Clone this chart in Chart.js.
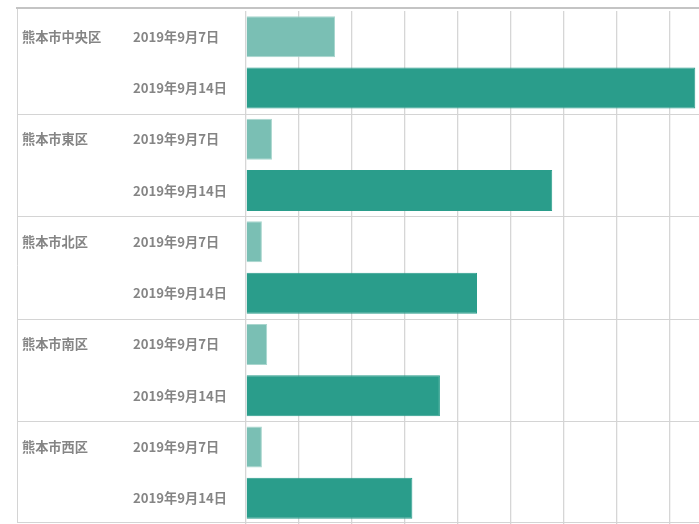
<!DOCTYPE html>
<html>
<head>
<meta charset="utf-8">
<script src="https://cdn.jsdelivr.net/npm/chart.js@4/dist/chart.umd.min.js"></script>
<style>
  body{margin:0;background:#fff;}
  #box{position:relative;width:699px;height:524px;}
</style>
</head>
<body>
<div id="box"><canvas id="grafico"></canvas></div>
<script>
// data
const kuList = ["熊本市中央区","熊本市東区","熊本市北区","熊本市南区","熊本市西区"];
const hiduke = ["2019年9月7日","2019年9月14日"];
const sep7  = [16.8, 4.9, 3.0, 4.0, 3.0];
const sep14 = [84.8, 57.8, 43.6, 36.6, 31.4];
const xTicks = [0, 10, 20, 30, 40, 50, 60, 70, 80];
const xMax = 85.5;

const iroUsui = "#7abfb4";
const iroKoi  = "#2a9d8b";
const moji = "#858585";
const fuente = '"Noto Sans CJK JP", "Noto Sans", sans-serif';
const moziSize = 13.2;

// 10 rows: each ku -> (7th, 14th)
let labels = [], valores = [], colores = [], bordes = [];
kuList.forEach((k,i)=>{
  labels.push(hiduke[0]); valores.push(sep7[i]);  colores.push(iroUsui); bordes.push("#a9d6ce");
  labels.push(hiduke[1]); valores.push(sep14[i]); colores.push(iroKoi);  bordes.push(iroKoi);
});

// table frame + district names
const waku = {
  id:"waku",
  beforeDatasetsDraw(chart){
    const ctx = chart.ctx, y = chart.scales.y, area = chart.chartArea;
    const half = (y.getPixelForValue(1) - y.getPixelForValue(0)) / 2;
    const izq = 17, der = chart.width;
    ctx.save();
    ctx.strokeStyle = "#d4d4d4";
    ctx.lineWidth = 1;
    for(let g=1; g<=kuList.length; g++){
      let py = (g < kuList.length) ? y.getPixelForValue(g*2) - half : y.getPixelForValue(g*2-1) + half;
      py = Math.min(Math.round(py), chart.height - 2) + 0.5;
      ctx.beginPath(); ctx.moveTo(izq, py); ctx.lineTo(der, py); ctx.stroke();
    }
    // left border
    const top = area.top - 3;
    const bot = Math.min(Math.round(y.getPixelForValue(labels.length-1) + half), chart.height - 2) + 0.5;
    ctx.beginPath(); ctx.moveTo(izq+0.5, top); ctx.lineTo(izq+0.5, bot); ctx.stroke();
    // top border
    ctx.strokeStyle = "#c4c4c4";
    ctx.lineWidth = 2;
    ctx.beginPath(); ctx.moveTo(izq-1, top); ctx.lineTo(der, top); ctx.stroke();
    // district names
    ctx.fillStyle = moji;
    ctx.font = "bold " + moziSize + "px " + fuente;
    ctx.textAlign = "left";
    ctx.textBaseline = "middle";
    kuList.forEach((k,i)=>{
      ctx.fillText(k, 22, y.getPixelForValue(i*2));
    });
    ctx.restore();
  }
};

new Chart(document.getElementById("grafico"),{
  type:"bar",
  data:{
    labels: labels,
    datasets:[{
      data: valores,
      backgroundColor: colores,
      borderColor: bordes,
      borderWidth: 1,
      barPercentage: 1,
      categoryPercentage: 0.8
    }]
  },
  options:{
    indexAxis:"y",
    responsive:true,
    maintainAspectRatio:false,
    animation:false,
    layout:{padding:{left:133, top:11, right:0, bottom:0}},
    plugins:{legend:{display:false}, tooltip:{enabled:false}},
    scales:{
      x:{
        min:0, max:xMax,
        ticks:{display:false},
        afterBuildTicks: s => { s.ticks = xTicks.map(v => ({value: v})); },
        grid:{color:"#d6d6d6", lineWidth:1.3, drawTicks:false},
        border:{display:false}
      },
      y:{
        grid:{display:false},
        border:{display:false},
        afterFit: s => { s.width = 113; s.paddingTop = 0; s.paddingBottom = 0; },
        ticks:{
          crossAlign:"far",
          padding:-10,
          color: moji,
          font:{family: fuente, size: moziSize, weight:"bold"}
        }
      }
    }
  },
  plugins:[waku]
});
</script>
</body>
</html>
